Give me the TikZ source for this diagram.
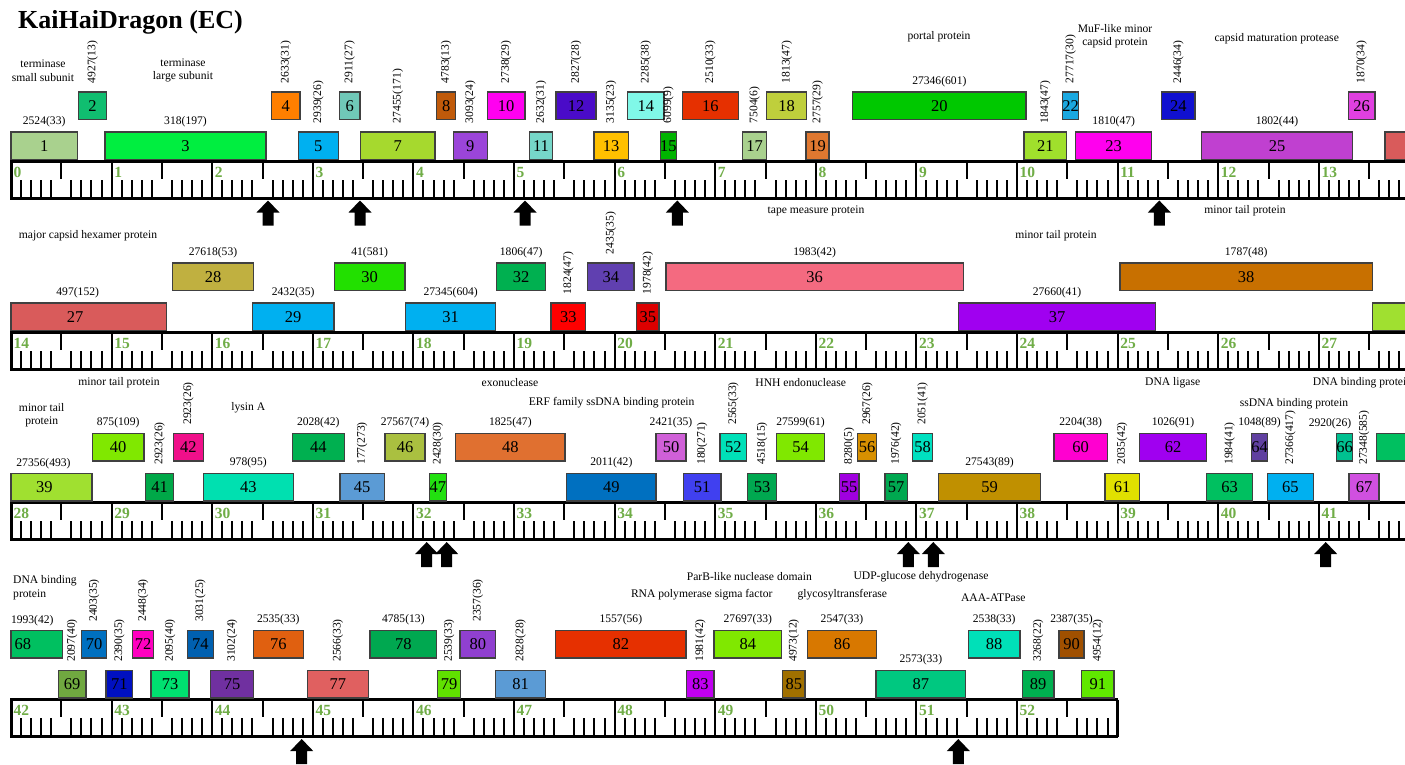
\documentclass[tikz,border=0pt]{standalone}
\usepackage{fontspec}
\setmainfont{Liberation Serif}
\definecolor{kbgreen}{RGB}{112,173,71}
\tikzset{
 genebox/.style={draw=black!75, line width=1.2pt, inner sep=0pt, minimum height=27.5pt, font=\fontsize{16.5}{18}\selectfont},
 numtxt/.style={inner sep=0pt, font=\fontsize{16.5}{18}\selectfont},
 lbl/.style={inner sep=0pt, font=\fontsize{11.6}{13}\selectfont},
 flbl/.style={inner sep=0pt, font=\fontsize{11.6}{13.5}\selectfont, align=center},
 kblbl/.style={inner sep=0pt, anchor=base west, text=kbgreen, font=\fontsize{15.5}{17}\selectfont\bfseries},
 rline/.style={line width=3pt, line join=miter},
 tickline/.style={line width=2pt},
 uparrow/.style={fill=black, draw=none}
}
% name, text, x1, x2, ytop, hex
\newcommand{\GB}[6]{%
  \definecolor{gc#1}{HTML}{#6}%
  \node[genebox, fill=gc#1, minimum width={(#4-#3)*1pt}] (g#1) at ({(#3+#4)/2},{#5+13.75}) {#2};}
\newcommand{\LH}[2]{\node[lbl] (l#1) at ([yshift=10pt]g#1.north) {#2};}
\newcommand{\LR}[2]{\node[lbl, rotate=90, anchor=west] (l#1) at ([yshift=8pt]g#1.north) {#2};}
% rt, start kb, tenths, last label index, xend
\newcommand{\rulerrow}[5]{%
  \draw[rline] (#5,#1) -- (11,#1) -- (11,#1+37) -- (#5,#1+37);
  \foreach \i in {1,...,#3} {
    \pgfmathtruncatemacro{\m}{mod(\i,10)}
    \pgfmathsetmacro{\xx}{11+10.06*\i}
    \ifnum\m=0 \draw[tickline] (\xx,#1) -- (\xx,#1+37);
    \else\ifnum\m=5 \draw[tickline] (\xx,#1) -- (\xx,#1+17.5);
    \else \draw[tickline] (\xx,#1+37) -- (\xx,#1+18.5); \fi\fi
  }
  \foreach \k in {0,...,#4} {
    \pgfmathtruncatemacro{\lab}{\k+#2}
    \node[kblbl] (kb\lab) at ({11+100.6*\k+2.5},#1+16) {\lab};
  }
}
\newcommand{\uparr}[2]{\draw[uparrow] (#1,#2) -- ++(11.5,12) -- ++(-6,0) -- ++(0,13) -- ++(-11,0) -- ++(0,-13) -- ++(-6,0) -- cycle;}
\begin{document}
\begin{tikzpicture}[x=1pt,y=-1pt]
\useasboundingbox (0,0) rectangle (1405,764);
\clip (0,0) rectangle (1405,764);
\fill[white] (0,0) rectangle (1405,764);

\node[anchor=base west, inner sep=0pt, font=\fontsize{26}{30}\selectfont\bfseries] (title) at (18,28.5) {KaiHaiDragon (EC)};

% ---------- rulers ----------
\rulerrow{161}{0}{139}{13}{1412}
\rulerrow{332}{14}{139}{13}{1412}
\rulerrow{502.5}{28}{139}{13}{1412}
\rulerrow{699.5}{42}{109}{10}{1117.6}
\draw[rline] (1117.6,699.5) -- (1117.6,736.5);

% ---------- arrows ----------
\uparr{268}{200.5}\uparr{360}{200.5}\uparr{525}{200.5}\uparr{677.3}{200.5}\uparr{1159.3}{200.5}
\uparr{426.7}{542}\uparr{446.7}{542}\uparr{908.3}{542}\uparr{933.3}{542}\uparr{1325.7}{542}
\uparr{301.7}{739}\uparr{958.3}{739}

% ---------- row 1 ----------
\GB{1}{1}{11}{77.3}{132}{A9D18E}\LH{1}{2524(33)}
\GB{2}{2}{78.3}{106.7}{92}{10BE70}\LR{2}{4927(13)}
\GB{3}{3}{105}{266}{132}{00EE40}\LH{3}{318(197)}
\GB{4}{4}{271.7}{300}{92}{FF7F00}\LR{4}{2633(31)}
\GB{5}{5}{298.3}{338.3}{132}{00B0F0}\LR{5}{2939(26)}
\GB{6}{6}{339.3}{360}{92}{70C8B8}\LR{6}{2911(27)}
\GB{7}{7}{360.7}{435}{132}{A6D92E}\LR{7}{27455(171)}
\GB{8}{8}{436.7}{455.7}{92}{C05A0A}\LR{8}{4783(13)}
\GB{9}{9}{453.3}{487.3}{132}{9B45D9}\LR{9}{3093(24)}
\GB{10}{10}{487.3}{525}{92}{FF00F0}\LR{10}{2738(29)}
\GB{11}{11}{529.3}{552.7}{132}{76D7C9}\LR{11}{2632(31)}
\GB{12}{12}{556}{596}{92}{4A0BC8}\LR{12}{2827(28)}
\GB{13}{13}{594}{628.3}{132}{FFC000}\LR{13}{3135(23)}
\GB{14}{14}{627.7}{664}{92}{80F8E8}\LR{14}{2285(38)}
\GB{15}{15}{660.7}{676}{132}{00B400}\LR{15}{6099(9)}
\GB{16}{16}{682.3}{738.3}{92}{E63000}\LR{16}{2510(33)}
\GB{17}{17}{742.7}{766.7}{132}{A9D18E}\LR{17}{7504(6)}
\GB{18}{18}{766.7}{806.7}{92}{BFCF3C}\LR{18}{1813(47)}
\GB{19}{19}{806}{829}{132}{E07830}\LR{19}{2757(29)}
\GB{20}{20}{852.7}{1026}{92}{00C800}\LH{20}{27346(601)}
\GB{21}{21}{1024}{1066.7}{132}{A0E02C}\LR{21}{1843(47)}
\GB{22}{22}{1065}{1076}{92}{1AA8E0}\LR{22}{27717(30)}
\GB{23}{23}{1075.7}{1151.7}{132}{FF00EE}\LH{23}{1810(47)}
\GB{24}{24}{1161.7}{1195}{92}{1010D0}\LR{24}{2446(34)}
\GB{25}{25}{1201.7}{1352.3}{132}{C040D0}\LH{25}{1802(44)}
\GB{26}{26}{1348.3}{1375}{92}{E040E0}\LR{26}{1870(34)}
\GB{27a}{}{1385}{1420}{132}{D95B5B}

\node[flbl] (f1) at (43,70.5) {terminase\\small subunit};
\node[flbl] (f3) at (183,70.5) {terminase\\large subunit};
\node[flbl] (f20) at (939,37) {portal protein};
\node[flbl] (f23) at (1115,36) {MuF-like minor\\capsid protein};
\node[flbl] (f25) at (1276.7,38.3) {capsid maturation protease};

% ---------- row 2 ----------
\GB{27b}{}{11}{166.7}{303}{D95B5B}
\node[numtxt] (n27) at (75,316.75) {27};
\node[lbl] (l27) at (77.7,293) {497(152)};
\GB{28}{28}{172.7}{253.3}{263}{C0B040}\LH{28}{27618(53)}
\GB{29}{29}{252.3}{334}{303}{00B0F0}\LH{29}{2432(35)}
\GB{30}{30}{334.3}{405}{263}{22E000}\LH{30}{41(581)}
\GB{31}{31}{405.7}{495.7}{303}{00B0F0}\LH{31}{27345(604)}
\GB{32}{32}{496.7}{545.7}{263}{00B050}\LH{32}{1806(47)}
\GB{33}{33}{551}{585.7}{303}{FF0000}\LR{33}{1824(47)}
\GB{34}{34}{587.7}{634}{263}{6040B0}\LR{34}{2435(35)}
\GB{35}{35}{636.7}{659}{303}{DD0000}\LR{35}{1978(42)}
\GB{36}{36}{666}{963.3}{263}{F46A80}\LH{36}{1983(42)}
\GB{37}{37}{958.3}{1155.7}{303}{A000F0}\LH{37}{27660(41)}
\GB{38}{38}{1120}{1372.3}{263}{C87000}\LH{38}{1787(48)}
\GB{39a}{}{1372.3}{1420}{303}{A0E030}

\node[flbl] (f36) at (816,211) {tape measure protein};
\node[flbl] (f38) at (1245,211) {minor tail protein};
\node[flbl] (f27) at (88,236) {major capsid hexamer protein};
\node[flbl] (f37) at (1056,236) {minor tail protein};

% ---------- row 3 ----------
\GB{39b}{}{11}{92}{473.5}{A0E030}
\node[numtxt] (n39) at (44.3,487.25) {39};
\node[lbl] (l39) at (43.5,463.5) {27356(493)};
\GB{40}{40}{92.3}{144}{433.5}{80E800}\LH{40}{875(109)}
\GB{41}{41}{145.7}{173.3}{473.5}{00A848}\LR{41}{2923(26)}
\GB{42}{42}{173.3}{203.3}{433.5}{F0108A}\LR{42}{2923(26)}
\GB{43}{43}{203.3}{293.3}{473.5}{00E0B0}\LH{43}{978(95)}
\GB{44}{44}{292.3}{344.3}{433.5}{00B050}\LH{44}{2028(42)}
\GB{45}{45}{340}{384.3}{473.5}{5B9BD5}\LR{45}{177(273)}
\GB{46}{46}{385}{425}{433.5}{AAC040}\LH{46}{27567(74)}
\GB{47}{47}{430}{445.7}{473.5}{22E010}\LR{47}{2428(30)}
\GB{48}{48}{455.7}{565}{433.5}{E07030}\LH{48}{1825(47)}
\GB{49}{49}{566.7}{656}{473.5}{0070C0}\LH{49}{2011(42)}
\GB{50}{50}{656}{686}{433.5}{D060D8}\LH{50}{2421(35)}
\GB{51}{51}{683.3}{721}{473.5}{4040F0}\LR{51}{180(271)}
\GB{52}{52}{720}{746.7}{433.5}{00E0B8}\LR{52}{2565(33)}
\GB{53}{53}{747.3}{776.7}{473.5}{00A850}\LR{53}{4518(15)}
\GB{54}{54}{776.7}{824.3}{433.5}{80E800}\LH{54}{27599(61)}
\GB{55}{55}{839.3}{859}{473.5}{A000E0}\LR{55}{8280(5)}
\GB{56}{56}{857.7}{876.7}{433.5}{D89000}\LR{56}{2967(26)}
\GB{57}{57}{885}{907.3}{473.5}{00A850}\LR{57}{1976(42)}
\GB{58}{58}{912.3}{932.7}{433.5}{00E0C0}\LR{58}{2051(41)}
\GB{59}{59}{938.3}{1040.7}{473.5}{C09000}\LH{59}{27543(89)}
\GB{60}{60}{1054}{1107.3}{433.5}{FF00D0}\LH{60}{2204(38)}
\GB{61}{61}{1105}{1139.3}{473.5}{E0E000}\LR{61}{2035(42)}
\GB{62}{62}{1139.3}{1206.7}{433.5}{A000F0}\LH{62}{1026(91)}
\GB{63}{63}{1206.7}{1252.3}{473.5}{00C060}\LR{63}{1984(41)}
\GB{64}{64}{1251.7}{1267.3}{433.5}{6040A0}\LH{64}{1048(89)}
\GB{65}{65}{1267.3}{1313.3}{473.5}{00B0F0}\LR{65}{27366(417)}
\GB{66}{66}{1337.3}{1351.7}{433.5}{00C090}
\node[lbl] (l66) at (1330,423.5) {2920(26)};
\GB{67}{67}{1349}{1379}{473.5}{D050E0}\LR{67}{27348(585)}
\GB{68a}{}{1376.7}{1420}{433.5}{00C060}

\node[flbl] (f40) at (119,383) {minor tail protein};
\node[flbl] (f39) at (41.7,415) {minor tail\\protein};
\node[flbl] (f43) at (248.3,408) {lysin A};
\node[flbl] (f48) at (510,382.3) {exonuclease};
\node[flbl] (f49) at (611.7,402.3) {ERF family ssDNA binding protein};
\node[flbl] (f54) at (800.7,382.3) {HNH endonuclease};
\node[flbl] (f62) at (1172.7,382.7) {DNA ligase};
\node[flbl] (f65) at (1294,403.3) {ssDNA binding protein};
\node[flbl, anchor=west] (f68a) at (1312.7,383) {DNA binding protein};

% ---------- row 4 ----------
\GB{68b}{}{11}{62.3}{630.5}{00C060}
\node[numtxt] (n68) at (22.8,644.25) {68};
\node[lbl] (l68) at (32.3,620.5) {1993(42)};
\GB{69}{69}{58.3}{86}{670.5}{70A840}\LR{69}{2097(40)}
\GB{70}{70}{81.7}{106.7}{630.5}{0070C0}\LR{70}{2403(35)}
\GB{71}{71}{106}{132.7}{670.5}{0010C0}\LR{71}{2390(35)}
\GB{72}{72}{132.7}{153.3}{630.5}{FF00C0}\LR{72}{2448(34)}
\GB{73}{73}{151}{189}{670.5}{00E070}\LR{73}{2095(40)}
\GB{74}{74}{187.3}{213.3}{630.5}{0060B0}\LR{74}{3031(25)}
\GB{75}{75}{210.7}{253.3}{670.5}{7030A0}\LR{75}{3102(24)}
\GB{76}{76}{253.3}{303.3}{630.5}{E06010}\LH{76}{2535(33)}
\GB{77}{77}{307.3}{368.3}{670.5}{E06060}\LR{77}{2566(33)}
\GB{78}{78}{370}{436.7}{630.5}{00A850}\LH{78}{4785(13)}
\GB{79}{79}{437.7}{460.7}{670.5}{60E000}\LR{79}{2539(33)}
\GB{80}{80}{460}{495.7}{630.5}{9040D0}\LR{80}{2357(36)}
\GB{81}{81}{495.7}{545.7}{670.5}{5B9BD5}\LR{81}{2828(28)}
\GB{82}{82}{555.7}{686}{630.5}{E63000}\LH{82}{1557(56)}
\GB{83}{83}{686.7}{714}{670.5}{C000F0}\LR{83}{1981(42)}
\GB{84}{84}{714}{781.7}{630.5}{80E800}\LH{84}{27697(33)}
\GB{85}{85}{782.7}{805}{670.5}{A07000}\LR{85}{4973(12)}
\GB{86}{86}{807.3}{876.7}{630.5}{D87800}\LH{86}{2547(33)}
\GB{87}{87}{876}{965.7}{670.5}{00C880}\LH{87}{2573(33)}
\GB{88}{88}{968.3}{1020}{630.5}{00E0B8}\LH{88}{2538(33)}
\GB{89}{89}{1022.3}{1054}{670.5}{00B050}\LR{89}{3268(22)}
\GB{90}{90}{1059}{1084}{630.5}{A05000}\LH{90}{2387(35)}
\GB{91}{91}{1081.7}{1114}{670.5}{60E800}\LR{91}{4954(12)}

\node[flbl, anchor=west, align=left] (f68b) at (13,587.5) {DNA binding\\protein};
\node[flbl] (f84) at (749.3,576.7) {ParB-like nuclease domain};
\node[flbl] (f83) at (701.7,595) {RNA polymerase sigma factor};
\node[flbl] (f86) at (842.3,595) {glycosyltransferase};
\node[flbl] (f87) at (921,576.7) {UDP-glucose dehydrogenase};
\node[flbl] (f88) at (993.3,597.3) {AAA-ATPase};
\end{tikzpicture}
\end{document}
